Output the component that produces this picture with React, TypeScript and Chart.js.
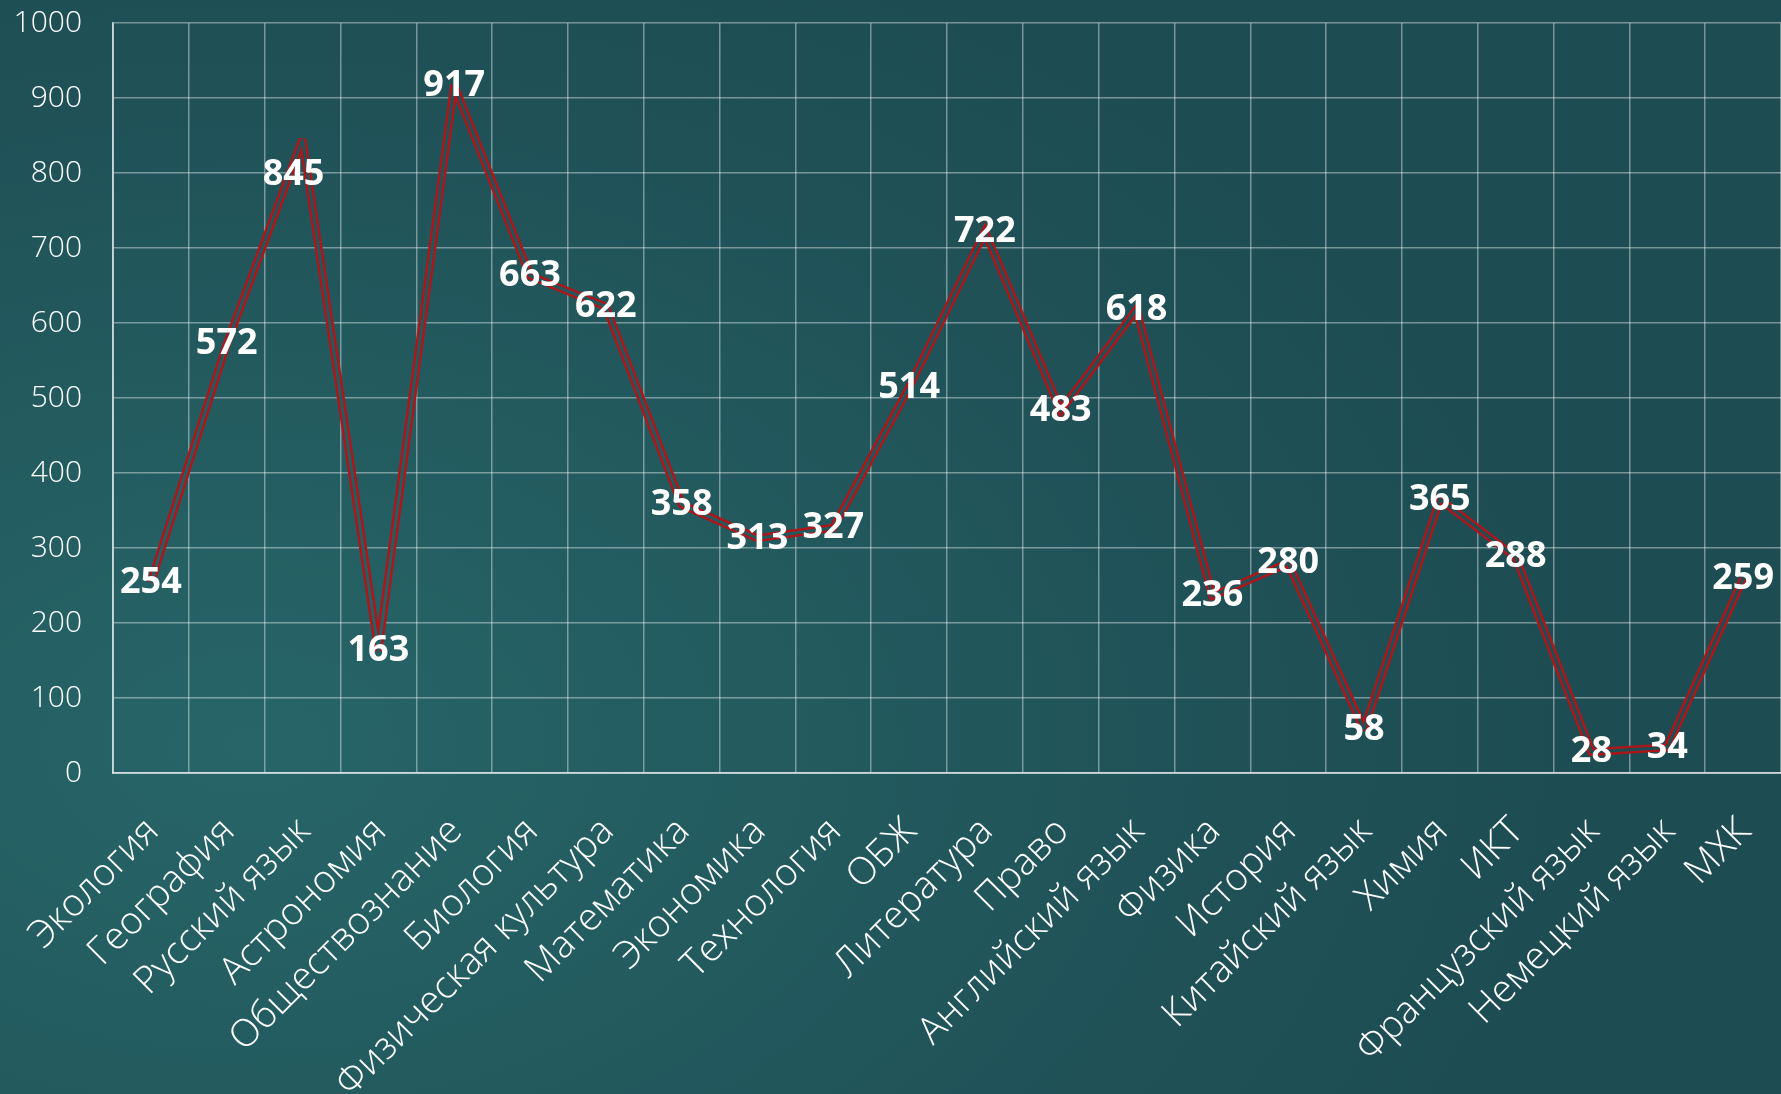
import React, { useEffect, useRef } from "react";
import { Chart, registerables } from "chart.js";

Chart.register(...registerables);

const categories = [
  "Экология",
  "География",
  "Русский язык",
  "Астрономия",
  "Обществознание",
  "Биология",
  "Физическая культура",
  "Математика",
  "Экономика",
  "Технология",
  "ОБЖ",
  "Литература",
  "Право",
  "Английский язык",
  "Физика",
  "История",
  "Китайский язык",
  "Химия",
  "ИКТ",
  "Французский язык",
  "Немецкий язык",
  "МХК",
];

const values = [
  254, 572, 845, 163, 917, 663, 622, 358, 313, 327, 514, 722, 483, 618, 236,
  280, 58, 365, 288, 28, 34, 259,
];

const yMin = 0;
const yMax = 1000;
const yStep = 100;

// nudges (px) of individual value labels, as in the source picture
const labelShiftX = [0, 0, -9, 0, 0, 0, 0, 0, 0, 0, 0, 0, 0, 0, 0, 0, 0, 0, 0, 0, 0, 0];
const labelShiftY = [0, 0, 35, 0, 0, 0, 0, 0, 0, 0, 0, 0, 0, 0, 0, 0, 0, 0, 0, 0, 0, 0];

const W = 1781;
const H = 1094;
const FONT = "'Open Sans', Lato, 'DejaVu Sans', sans-serif";

// dataset 0 (drawn last by Chart.js) punches a hole through the red line
const hollowLine = {
  id: "hollowLine",
  beforeDatasetDraw(chart: any, args: any) {
    chart.ctx.save();
    chart.ctx.miterLimit = 2.5;
    if (args.index === 0) {
      chart.ctx.globalCompositeOperation = "destination-out";
    }
  },
  afterDatasetDraw(chart: any) {
    chart.ctx.restore();
  },
};

const valueLabels = {
  id: "valueLabels",
  afterDatasetsDraw(chart: any) {
    const ctx = chart.ctx;
    const meta = chart.getDatasetMeta(1);
    ctx.save();
    ctx.fillStyle = "#ffffff";
    ctx.font = `bold 36px ${FONT}`;
    ctx.textAlign = "center";
    ctx.textBaseline = "middle";
    meta.data.forEach((el: any, i: number) => {
      ctx.fillText(
        String(values[i]),
        el.x + (labelShiftX[i] || 0),
        el.y + (labelShiftY[i] || 0)
      );
    });
    ctx.restore();
  },
};

export default function App() {
  const ref = useRef<HTMLCanvasElement | null>(null);

  useEffect(() => {
    document.body.style.margin = "0";
    if (!ref.current) return;
    const gridColor = "rgba(255,255,255,0.4)";
    const chart = new Chart(ref.current, {
      type: "line",
      data: {
        labels: categories,
        datasets: [
          {
            data: values,
            borderColor: "#000000",
            borderWidth: 3,
            borderJoinStyle: "miter",
            pointRadius: 0,
            tension: 0,
            fill: false,
          },
          {
            data: values,
            borderColor: "#ac171c",
            borderWidth: 8,
            borderJoinStyle: "miter",
            pointRadius: 0,
            tension: 0,
            fill: false,
          },
        ],
      },
      options: {
        responsive: false,
        animation: false,
        layout: { padding: { top: 23, right: 0, left: 0, bottom: 0 } },
        plugins: {
          legend: { display: false },
          tooltip: { enabled: false },
        },
        scales: {
          x: {
            type: "category",
            offset: true,
            grid: {
              color: gridColor,
              lineWidth: 1.5,
              drawTicks: false,
              offset: true,
            },
            border: { color: "rgba(255,255,255,0.6)", width: 2 },
            ticks: {
              color: "#ffffff",
              font: { family: FONT, size: 38, weight: "300" },
              minRotation: 45,
              maxRotation: 45,
              autoSkip: false,
              padding: 36,
              labelOffset: 2,
            },
            afterFit(scale: any) {
              scale.height = H - 773;
              scale.paddingLeft = 0;
              scale.paddingRight = 0;
            },
          },
          y: {
            min: yMin,
            max: yMax,
            grid: {
              color: gridColor,
              lineWidth: 1.5,
              drawTicks: false,
            },
            border: { color: "rgba(255,255,255,0.6)", width: 2 },
            ticks: {
              stepSize: yStep,
              color: "#ffffff",
              font: { family: FONT, size: 30, weight: "300" },
              padding: 31,
              callback: (v: any) => String(v),
            },
            afterFit(scale: any) {
              scale.width = 113;
              scale.paddingTop = 0;
              scale.paddingBottom = 0;
            },
          },
        },
      },
      plugins: [hollowLine, valueLabels],
    } as any);
    return () => chart.destroy();
  }, []);

  return (
    <div
      style={{
        width: W,
        height: H,
        position: "relative",
        overflow: "hidden",
        background:
          "radial-gradient(ellipse 75% 80% at 14% 68%, #276568 0%, #235b5f 40%, #1f5157 75%, #1d4d53 100%)",
      }}
    >
      <canvas ref={ref} width={W} height={H} style={{ display: "block", width: W, height: H }} />
    </div>
  );
}
